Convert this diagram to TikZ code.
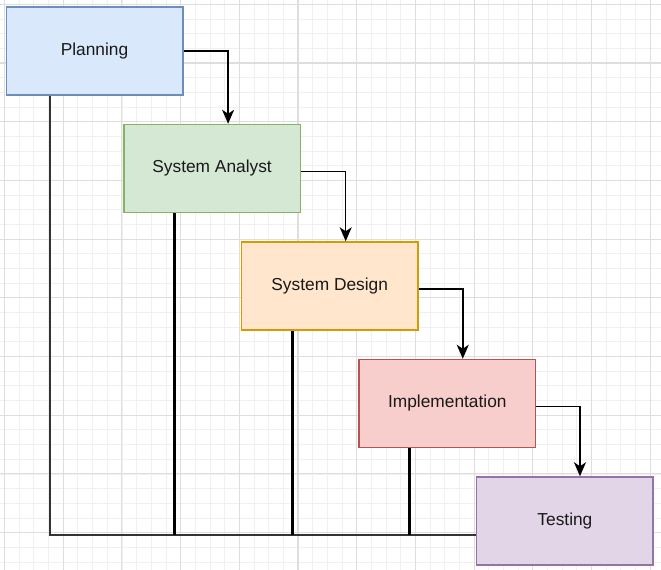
\documentclass[tikz,border=0pt]{standalone}
\usepackage{fontspec}
\setmainfont{Liberation Sans}
\usetikzlibrary{arrows.meta}

\definecolor{planfill}{HTML}{DAE8FC}\definecolor{planline}{HTML}{6C8EBF}
\definecolor{analfill}{HTML}{D5E8D4}\definecolor{analline}{HTML}{82B366}
\definecolor{desfill}{HTML}{FFE6CC}\definecolor{desline}{HTML}{D79B00}
\definecolor{implfill}{HTML}{F8CECC}\definecolor{implline}{HTML}{B85450}
\definecolor{testfill}{HTML}{E1D5E7}\definecolor{testline}{HTML}{9673A6}

\tikzset{
  phase/.style={draw, line width=1.1pt, minimum width=132.4pt, minimum height=66pt,
    inner sep=0pt, font=\fontsize{13}{15}\selectfont, text=black!90},
  flow/.style={line width=1.1pt, -{Stealth[length=10.5pt,width=9pt,inset=3pt]}},
  rail/.style={line width=1.6pt, black!80},
  post/.style={line width=2.4pt, black},
  minorgrid/.style={line width=0.6pt, black!6},
  majorgrid/.style={line width=0.8pt, black!13}
}

\begin{document}
\begin{tikzpicture}[x=0.75pt,y=-0.75pt]
      \useasboundingbox (0,0) rectangle (661,570);
      % background grid
      \foreach \i in {0,...,44} {
        \pgfmathsetmacro\gx{4.5+14.675*\i}
        \draw[minorgrid] (\gx,0) -- (\gx,570);
      }
      \foreach \i in {0,...,38} {
        \pgfmathsetmacro\gy{4.3+14.675*\i}
        \draw[minorgrid] (0,\gy) -- (661,\gy);
      }
      \foreach \i in {0,...,11} {
        \pgfmathsetmacro\gx{4.5+58.7*\i}
        \draw[majorgrid] (\gx,0) -- (\gx,570);
      }
      \foreach \i in {0,...,9} {
        \pgfmathsetmacro\gy{4.3+58.7*\i}
        \draw[majorgrid] (0,\gy) -- (661,\gy);
      }

      % phases
      \node[phase, fill=planfill, draw=planline] (plan) at (94.5,51) {Planning};
      \node[phase, fill=analfill, draw=analline] (anal) at (212.1,168.5) {System Analyst};
      \node[phase, fill=desfill, draw=desline] (des) at (329.7,286) {System Design};
      \node[phase, fill=implfill, draw=implline] (impl) at (447.3,403.5) {Implementation};
      \node[phase, fill=testfill, draw=testline] (test) at (564.9,521) {Testing};

      % waterfall arrows
      \draw[flow] (plan.east) -| ([xshift=12pt]anal.north);
      \draw[flow] ([yshift=-2.3pt]anal.east) -| ([xshift=12pt]des.north);
      \draw[flow] ([yshift=-2.3pt]des.east) -| ([xshift=11.6pt]impl.north);
      \draw[flow] ([yshift=-2.3pt]impl.east) -| ([xshift=11.3pt]test.north);

      % feedback rails
      \coordinate (corner) at (50.3,535);
      \draw[rail] (corner |- plan.south) -- (corner) -- (corner -| test.west);
      \foreach \n in {anal,des,impl}
        \draw[post] ([xshift=-28.2pt]\n.south) -- ([xshift=-28.2pt]\n.south |- corner);
    \end{tikzpicture}
\end{document}
